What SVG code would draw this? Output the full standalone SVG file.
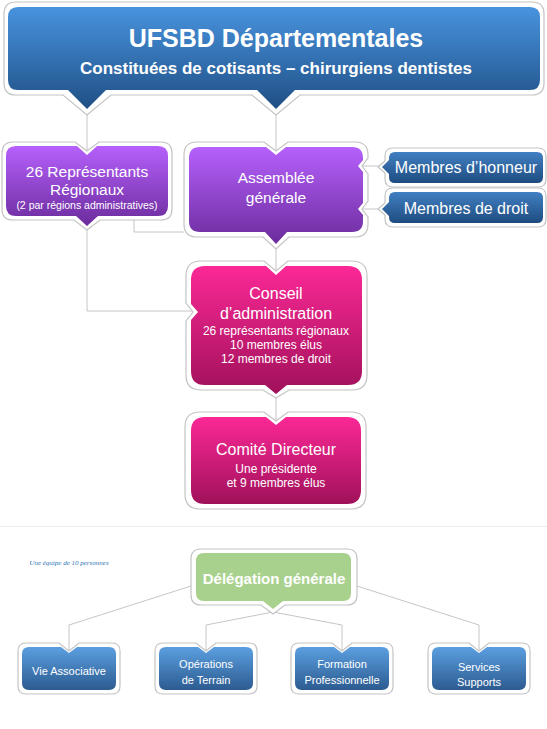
<svg xmlns="http://www.w3.org/2000/svg" width="547" height="729" viewBox="0 0 547 729">
<defs>
<linearGradient id="gTop" x1="0" y1="0" x2="0" y2="1"><stop offset="0" stop-color="#4893de"/><stop offset="1" stop-color="#1f4f85"/></linearGradient>
<linearGradient id="gPur" x1="0" y1="0" x2="0" y2="1"><stop offset="0" stop-color="#b660fc"/><stop offset="1" stop-color="#6b2c9c"/></linearGradient>
<linearGradient id="gPink" x1="0" y1="0" x2="0" y2="1"><stop offset="0" stop-color="#fb2896"/><stop offset="1" stop-color="#a0115a"/></linearGradient>
<linearGradient id="gMem" x1="0" y1="0" x2="0" y2="1"><stop offset="0" stop-color="#4180c2"/><stop offset="1" stop-color="#1e4c80"/></linearGradient>
<linearGradient id="gBot" x1="0" y1="0" x2="0" y2="1"><stop offset="0" stop-color="#5b9fe0"/><stop offset="1" stop-color="#2c5b90"/></linearGradient>
</defs>
<style>
.frame{fill:#ffffff;stroke:#c4c4c4;stroke-width:1.2}
.t{font-family:"Liberation Sans",Arial,sans-serif;fill:#ffffff;text-anchor:middle}
.b{font-weight:bold}
.conn{fill:none;stroke:#c6c6c6;stroke-width:1}
</style>

<line x1="0" y1="526.5" x2="547" y2="526.5" stroke="#ececec" stroke-width="1"/>

<g id="connectors" class="conn">
<path d="M87,114 V151"/>
<path d="M276,114 V151"/>
<path d="M87,229 V311 H193"/>
<path d="M134,220 V232 H184"/>
<path d="M360,166 H381"/>
<path d="M360,209 H381"/>
<path d="M276,248 V271"/>
<path d="M276,397 V421"/>
<path d="M191,586 L69,625 V652"/>
<path d="M273,612 L206,625 V652"/>
<path d="M273,612 L342,625 V652"/>
<path d="M357,586 L479,625 V652"/>
</g>

<g id="ufsbd">
<path class="frame" d="M16,2 H532 Q544,2 544,14 V83 Q544,95 532,95 H300 L276,115 L252,95 H111 L87,115 L63,95 H16 Q4,95 4,83 V14 Q4,2 16,2 Z"/>
<path fill="url(#gTop)" d="M18,7 H530 Q540,7 540,17 V80 Q540,90 530,90 H295 L276,109 L257,90 H106 L87,109 L68,90 H18 Q8,90 8,80 V17 Q8,7 18,7 Z"/>
<text class="t b" x="276" y="47" font-size="25">UFSBD Départementales</text>
<text class="t b" x="276" y="74" font-size="17">Constituées de cotisants – chirurgiens dentistes</text>
</g>

<g id="representants">
<path class="frame" d="M13,142 H75 L87,151 L99,142 H161 Q172,142 172,153 V209 Q172,220 161,220 H100 L87,230 L74,220 H13 Q2,220 2,209 V153 Q2,142 13,142 Z"/>
<path fill="url(#gPur)" d="M16,146 H77 L87,155 L97,146 H158 Q168,146 168,156 V206 Q168,216 158,216 H98 L87,226 L76,216 H16 Q6,216 6,206 V156 Q6,146 16,146 Z"/>
<text class="t" x="87" y="177" font-size="15.5">26 Représentants</text>
<text class="t" x="87" y="195" font-size="15.5">Régionaux</text>
<text class="t" x="87" y="209" font-size="10.5">(2 par régions administratives)</text>
</g>

<g id="assemblee">
<path class="frame" d="M197,142 H264 L276,151 L288,142 H355 Q368,142 368,155 V158 L362,166 L368,174 V201 L362,209 L368,217 V224 Q368,237 355,237 H289 L276,249 L263,237 H197 Q184,237 184,224 V155 Q184,142 197,142 Z"/>
<path fill="url(#gPur)" d="M200,147 H266 L276,155 L286,147 H352 Q363,147 363,158 V160 L358,166 L363,172 V203 L358,209 L363,215 V221 Q363,232 352,232 H287 L276,244 L265,232 H200 Q189,232 189,221 V158 Q189,147 200,147 Z"/>
<text class="t" x="276" y="183" font-size="15.5">Assemblée</text>
<text class="t" x="276" y="203" font-size="15.5">générale</text>
</g>

<g id="honneur">
<path class="frame" d="M393,148 H538 Q546,148 546,156 V179 Q546,187 538,187 H393 Q385,187 385,179 V173 L378,167 L385,161 V156 Q385,148 393,148 Z"/>
<path fill="url(#gMem)" d="M395,152 H537 Q543,152 543,158 V177 Q543,183 537,183 H395 Q389,183 389,177 V174 L382,167 L389,160 V158 Q389,152 395,152 Z"/>
<text class="t" x="466" y="173" font-size="16">Membres d’honneur</text>
</g>

<g id="droit">
<path class="frame" d="M393,188 H538 Q546,188 546,196 V219 Q546,227 538,227 H393 Q385,227 385,219 V215 L378,209 L385,203 V196 Q385,188 393,188 Z"/>
<path fill="url(#gMem)" d="M395,192 H537 Q543,192 543,198 V217 Q543,223 537,223 H395 Q389,223 389,217 V216 L382,209 L389,202 V198 Q389,192 395,192 Z"/>
<text class="t" x="466" y="214" font-size="16">Membres de droit</text>
</g>

<g id="conseil">
<path class="frame" d="M201,261 H264 L276,271 L288,261 H352 Q367,261 367,276 V375 Q367,390 352,390 H289 L276,398 L263,390 H201 Q186,390 186,375 V321 L193,312 L186,303 V276 Q186,261 201,261 Z"/>
<path fill="url(#gPink)" d="M205,266 H266 L276,275 L286,266 H348 Q362,266 362,280 V371 Q362,385 348,385 H287 L276,394 L265,385 H205 Q191,385 191,371 V320 L198,312 L191,304 V280 Q191,266 205,266 Z"/>
<text class="t" x="276" y="299" font-size="16">Conseil</text>
<text class="t" x="276" y="319" font-size="16">d’administration</text>
<text class="t" x="276" y="335" font-size="12">26 représentants régionaux</text>
<text class="t" x="276" y="349" font-size="12">10 membres élus</text>
<text class="t" x="276" y="363" font-size="12">12 membres de droit</text>
</g>

<g id="comite">
<path class="frame" d="M200,412 H264 L276,421 L288,412 H351 Q366,412 366,427 V494 Q366,509 351,509 H200 Q185,509 185,494 V427 Q185,412 200,412 Z"/>
<path fill="url(#gPink)" d="M205,417 H266 L276,425 L286,417 H347 Q361,417 361,431 V490 Q361,504 347,504 H205 Q191,504 191,490 V431 Q191,417 205,417 Z"/>
<text class="t" x="276" y="455" font-size="16">Comité Directeur</text>
<text class="t" x="276" y="473" font-size="12">Une présidente</text>
<text class="t" x="276" y="487" font-size="12">et 9 membres élus</text>
</g>

<text x="69" y="565" font-family="'Liberation Serif',serif" font-style="italic" font-size="7" fill="#2e75b6" text-anchor="middle">Une équipe de 10 personnes</text>

<g id="delegation">
<path class="frame" d="M201,549 H347 Q357,549 357,559 V595 Q357,605 347,605 H285 L273,614 L261,605 H201 Q191,605 191,595 V559 Q191,549 201,549 Z"/>
<path fill="#a9d18e" d="M204,553 H343 Q351,553 351,561 V593 Q351,601 343,601 H283 L273,609 L263,601 H204 Q196,601 196,593 V561 Q196,553 204,553 Z"/>
<text class="t b" x="274" y="584" font-size="15">Délégation générale</text>
</g>

<g id="vie">
<path class="frame" d="M26,643 H59 L69,651 L79,643 H112 Q120,643 120,651 V686 Q120,694 112,694 H26 Q18,694 18,686 V651 Q18,643 26,643 Z"/>
<path fill="url(#gBot)" d="M29,647 H61 L69,653 L77,647 H109 Q116,647 116,654 V683 Q116,690 109,690 H29 Q22,690 22,683 V654 Q22,647 29,647 Z"/>
<text class="t" x="69" y="675" font-size="11">Vie Associative</text>
</g>

<g id="operations">
<path class="frame" d="M163,643 H196 L206,651 L216,643 H249 Q257,643 257,651 V686 Q257,694 249,694 H163 Q155,694 155,686 V651 Q155,643 163,643 Z"/>
<path fill="url(#gBot)" d="M166,647 H198 L206,653 L214,647 H246 Q253,647 253,654 V683 Q253,690 246,690 H166 Q159,690 159,683 V654 Q159,647 166,647 Z"/>
<text class="t" x="206" y="668" font-size="11">Opérations</text>
<text class="t" x="206" y="684" font-size="11">de Terrain</text>
</g>

<g id="formation">
<path class="frame" d="M299,643 H332 L342,651 L352,643 H385 Q393,643 393,651 V686 Q393,694 385,694 H299 Q291,694 291,686 V651 Q291,643 299,643 Z"/>
<path fill="url(#gBot)" d="M302,647 H334 L342,653 L350,647 H382 Q389,647 389,654 V683 Q389,690 382,690 H302 Q295,690 295,683 V654 Q295,647 302,647 Z"/>
<text class="t" x="342" y="668" font-size="11">Formation</text>
<text class="t" x="342" y="684" font-size="11">Professionnelle</text>
</g>

<g id="services">
<path class="frame" d="M436,643 H469 L479,651 L489,643 H522 Q530,643 530,651 V686 Q530,694 522,694 H436 Q428,694 428,686 V651 Q428,643 436,643 Z"/>
<path fill="url(#gBot)" d="M439,647 H471 L479,653 L487,647 H519 Q526,647 526,654 V683 Q526,690 519,690 H439 Q432,690 432,683 V654 Q432,647 439,647 Z"/>
<text class="t" x="479" y="671" font-size="11">Services</text>
<text class="t" x="479" y="686" font-size="11">Supports</text>
</g>
</svg>
